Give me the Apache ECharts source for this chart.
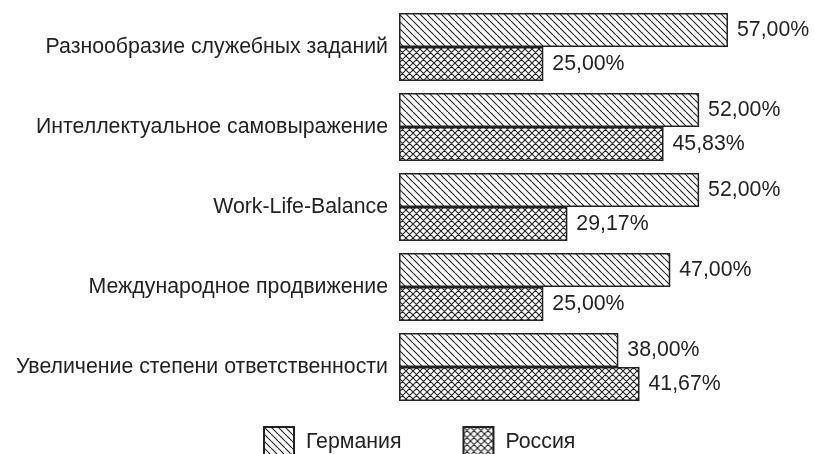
<!DOCTYPE html>
<html>
<head>
<meta charset="utf-8">
<script src="https://cdn.jsdelivr.net/npm/echarts@6/dist/echarts.min.js"></script>
<style>
html,body{margin:0;padding:0;background:#fff;}
#chart{width:814px;height:454px;}
</style>
</head>
<body>
<div id="chart"></div>
<script>
const categories = [
  'Разнообразие служебных заданий',
  'Интеллектуальное самовыражение',
  'Work-Life-Balance',
  'Международное продвижение',
  'Увеличение степени ответственности'
];
const seriesNames = ['Германия', 'Россия'];
const germany = [57.00, 52.00, 52.00, 47.00, 38.00];
const russia = [25.00, 45.83, 29.17, 25.00, 41.67];

function makePattern(type) {
  const s = 7;
  const c = document.createElement('canvas');
  c.width = s; c.height = s;
  const ctx = c.getContext('2d');
  ctx.fillStyle = '#fff';
  ctx.fillRect(0, 0, s, s);
  ctx.strokeStyle = '#222';
  ctx.lineWidth = 1.1;
  ctx.beginPath();
  for (let k = -1; k <= 1; k++) {
    ctx.moveTo(k * s, 0); ctx.lineTo(k * s + s, s);
    if (type === 'cross') { ctx.moveTo(k * s, s); ctx.lineTo(k * s + s, 0); }
  }
  ctx.stroke();
  return { image: c, repeat: 'repeat' };
}
const patG = makePattern('diag');
const patR = makePattern('cross');

const fmt = p => p.value.toFixed(2).replace('.', ',') + '%';
const font = 'Liberation Sans, Arial, sans-serif';
const fs = 21.3;

const chart = echarts.init(document.getElementById('chart'));
chart.setOption({
  animation: false,
  backgroundColor: '#fff',
  grid: { left: 399, top: 7, width: 404, height: 400, containLabel: false },
  xAxis: { type: 'value', min: 0, max: 70, show: false },
  yAxis: {
    type: 'category', data: categories, inverse: true,
    axisLine: { show: false }, axisTick: { show: false },
    axisLabel: { color: '#222', fontSize: fs, fontFamily: font, margin: 11 }
  },
  legend: {
    left: 263, top: 426, padding: 0, itemWidth: 30, itemHeight: 30, itemGap: 61,
    icon: 'rect',
    textStyle: { color: '#222', fontSize: fs, fontFamily: font, padding: [0, 0, 0, 7] },
    data: seriesNames
  },
  series: [
    {
      name: seriesNames[0], type: 'bar', data: germany,
      barGap: '0%', barCategoryGap: '15%',
      itemStyle: { color: patG, borderColor: '#222', borderWidth: 1.5 },
      label: { show: true, position: 'right', distance: 9, formatter: fmt, color: '#222', fontSize: fs, fontFamily: font }
    },
    {
      name: seriesNames[1], type: 'bar', data: russia,
      barGap: '0%', barCategoryGap: '15%',
      itemStyle: { color: patR, borderColor: '#222', borderWidth: 1.5 },
      label: { show: true, position: 'right', distance: 9, formatter: fmt, color: '#222', fontSize: fs, fontFamily: font }
    }
  ]
});
</script>
</body>
</html>
